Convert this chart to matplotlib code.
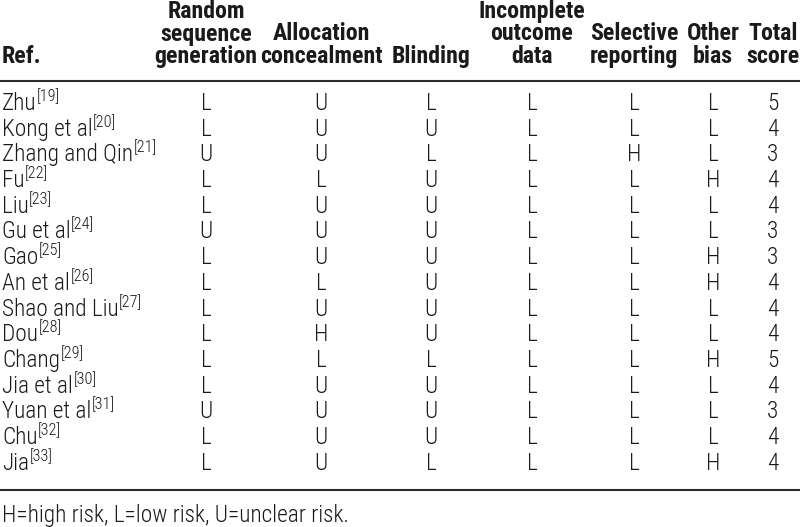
import matplotlib.pyplot as plt

FAM = 'Roboto Condensed'

headers = [['Ref.'], ['Random', 'sequence', 'generation'], ['Allocation', 'concealment'],
           ['Blinding'], ['Incomplete', 'outcome', 'data'], ['Selective', 'reporting'],
           ['Other', 'bias'], ['Total', 'score']]
authors = ['Zhu', 'Kong et al', 'Zhang and Qin', 'Fu', 'Liu', 'Gu et al', 'Gao', 'An et al',
           'Shao and Liu', 'Dou', 'Chang', 'Jia et al', 'Yuan et al', 'Chu', 'Jia']
refs = list(range(19, 34))
random_seq = ['L', 'L', 'U', 'L', 'L', 'U', 'L', 'L', 'L', 'L', 'L', 'L', 'U', 'L', 'L']
allocation = ['U', 'U', 'U', 'L', 'U', 'U', 'U', 'L', 'U', 'H', 'L', 'U', 'U', 'U', 'U']
blinding = ['L', 'U', 'L', 'U', 'U', 'U', 'U', 'U', 'U', 'U', 'L', 'U', 'U', 'U', 'L']
incomplete = ['L'] * 15
selective = ['L', 'L', 'H', 'L', 'L', 'L', 'L', 'L', 'L', 'L', 'L', 'L', 'L', 'L', 'L']
other_bias = ['L', 'L', 'L', 'H', 'L', 'L', 'H', 'H', 'L', 'L', 'H', 'L', 'L', 'L', 'H']
total = [5, 4, 3, 4, 4, 3, 3, 4, 4, 4, 5, 4, 3, 4, 4]
footnote = 'H=high risk, L=low risk, U=unclear risk.'

# layout in pixels (y grows downward)
col_x = [2, 206, 321, 431, 532, 634, 713, 773]
head_base, head_step = 63, 22.5
row0, row_h = 110, 25.7     # baseline of first body row
txt = '#1a1a1a'

fig = plt.figure(figsize=(8, 5.27), dpi=100)
ax = fig.add_axes([0, 0, 1, 1])
ax.set_xlim(0, 800)
ax.set_ylim(527, 0)
ax.axis('off')
fig.canvas.draw()
renderer = fig.canvas.get_renderer()
inv = ax.transData.inverted()


def width_px(s, size, weight):
    t = ax.text(0, 0, s, fontsize=size, family=FAM, fontweight=weight)
    w = t.get_window_extent(renderer).width
    t.remove()
    return w


# pick sizes from reference text widths, then bump a little since the
# original face is taller than Roboto Condensed
fs_body = 1.06 * 10 * 123 / width_px('Zhang and Qin', 10, 300)
fs_head = 1.04 * 10 * 117 / width_px('concealment', 10, 'bold')

for i, lines in enumerate(headers):
    ha = 'left' if i == 0 else 'center'
    for k, s in enumerate(reversed(lines)):
        ax.text(col_x[i], head_base - k * head_step, s, ha=ha, va='baseline',
                fontsize=fs_head, fontweight='bold', family=FAM, color=txt)

ax.plot([0, 800], [80.5, 80.5], color='#2a2a2a', lw=1.5)
ax.plot([0, 800], [489.5, 489.5], color='#2a2a2a', lw=1.5)

columns = [random_seq, allocation, blinding, incomplete, selective, other_bias, total]
for r in range(len(authors)):
    y = row0 + r * row_h
    t = ax.text(col_x[0], y, authors[r], ha='left', va='baseline', fontsize=fs_body,
                family=FAM, fontweight=300, color=txt)
    bb = t.get_window_extent(renderer)
    x_end = inv.transform((bb.x1, bb.y1))[0]
    ax.text(x_end + 0.5, y - 9, '[%d]' % refs[r], ha='left', va='baseline',
            fontsize=fs_body * 0.7, family=FAM, fontweight=300, color=txt)
    for c, col in enumerate(columns):
        ax.text(col_x[c + 1], y, str(col[r]), ha='center', va='baseline', fontsize=fs_body,
                family=FAM, fontweight=300, color=txt)

ax.text(col_x[0], 522, footnote, ha='left', va='baseline', fontsize=fs_body,
        family=FAM, fontweight=300, color=txt)

fig.savefig('out.png', dpi=100)
